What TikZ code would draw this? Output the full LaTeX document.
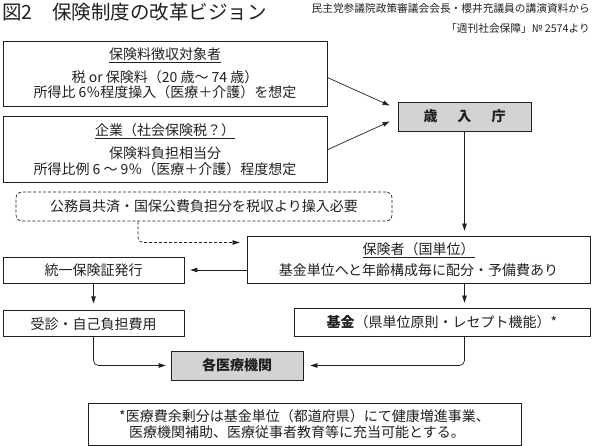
\documentclass[tikz,border=0pt]{standalone}
\usepackage{fontspec}
\setmainfont{Noto Sans CJK JP}
\usepackage{xcolor}
\definecolor{boxGray}{HTML}{D3D3D3}
\definecolor{darkText}{HTML}{231F20}
\usetikzlibrary{
    arrows.meta,
    positioning,
    calc
}
\tikzset{
    % Base style for all boxes
    flow base/.style={
        font=\fontsize{14}{15.5}\selectfont,
        align=center,
        text=darkText,
        draw=darkText,
        line width=0.8pt,
        rectangle,
        inner sep=0pt,
    },
    % Plain white box
    plain box/.style={
        flow base,
    },
    % Gray box - agency and hospitals
    gray box/.style={
        flow base,
        fill=boxGray,
        font=\fontsize{14}{15.5}\selectfont\bfseries,
    },
    % Dashed box with rounded corners
    dash box/.style={
        flow base,
        dash pattern=on 3pt off 2pt,
        line width=0.7pt,
        rounded corners=6pt,
    },
    % Arrow style - thin, small filled tip
    arrow/.style={
        -{Triangle[length=7pt, width=4.5pt]},
        line width=0.7pt,
        draw=darkText,
        rounded corners=5pt,
    },
    % Dashed arrow variant
    arrow dashed/.style={
        arrow,
        dash pattern=on 3pt off 2pt,
    },
}

\begin{document}
\begin{tikzpicture}[x=1pt, y=-1pt]
    \useasboundingbox (0,0) rectangle (596,446);

    \node (title) [anchor=west, inner sep=0pt, text=darkText, font=\fontsize{19.5}{20}\selectfont] at (2,12) {図2　保険制度の改革ビジョン};
    \node (source) [anchor=north east, align=right, inner sep=0pt, text=darkText, font=\fontsize{10.7}{20}\selectfont] at (590,3) {民主党参議院政策審議会会長・櫻井充議員の講演資料から\\「週刊社会保障」№ 2574より};

    \node (levy) [plain box, minimum width=324pt, minimum height=65pt] at (165,73.5) {\underline{保険料徴収対象者}\\[7.5pt]税 or 保険料（20 歳～ 74 歳）\\所得比 6％程度操入（医療＋介護）を想定};
    \node (firm) [plain box, minimum width=324pt, minimum height=66pt, below=10pt of levy] {\underline{企業（社会保険税？）}\\[7.5pt]保険料負担相当分\\所得比例 6 ～ 9％（医療＋介護）程度想定};
    \node (saiyu) [gray box, minimum width=133pt, minimum height=29pt] at (464.5,116.5) {歳\hspace{20pt}入\hspace{20pt}庁};
    \node (pubfund) [dash box, minimum width=376pt, minimum height=29pt] at (204,206.5) {公務員共済・国保公費負担分を税収より操入必要};
    \node (insurer) [plain box, minimum width=343pt, minimum height=47pt] at (418.5,259.5) {\underline{保険者（国単位）}\\[6pt]基金単位へと年齢構成毎に配分・予備費あり};
    \node (card) [plain box, minimum width=181pt, minimum height=26pt] at (93.5,270) {統一保険証発行};
    \node (visit) [plain box, minimum width=181pt, minimum height=26pt, below=27pt of card] {受診・自己負担費用};
    \node (fund) [plain box, minimum width=296pt, minimum height=28pt] at (442,322) {\textbf{基金}（県単位原則・レセプト機能）*};
    \node (clinic) [gray box, minimum width=132pt, minimum height=29pt] at (237,365.5) {各医療機関};
    \node (note) [plain box, minimum width=433pt, minimum height=42pt, align=left, font=\fontsize{14}{16}\selectfont] at (304.5,424) {*医療費余剰分は基金単位（都道府県）にて健康増進事業、\\\hspace*{10pt}医療機関補助、医療従事者教育等に充当可能とする。};

    \draw [arrow] ([yshift=-4pt]levy.east) -- ([xshift=-8pt, yshift=11pt]saiyu.west);
    \draw [arrow] (firm.east) -- ([xshift=-8pt, yshift=-5pt]saiyu.west);
    \draw [arrow, shorten >=5pt] (saiyu.south) -- (saiyu.south |- insurer.north);
    \draw [arrow dashed, shorten >=7pt] ([xshift=-66pt]pubfund.south) |- ([yshift=17pt]insurer.west);
    \draw [arrow, shorten >=6pt] (insurer.west |- card.east) -- (card.east);
    \draw [arrow, shorten >=7pt] (card.south) -- (visit.north);
    \draw [arrow, shorten >=5pt] (saiyu.south |- insurer.south) -- (saiyu.south |- fund.north);
    \draw [arrow, shorten >=5pt] (visit.south) |- (clinic.west);
    \draw [arrow, shorten >=7pt] (saiyu.south |- fund.south) |- (clinic.east);
\end{tikzpicture}
\end{document}
